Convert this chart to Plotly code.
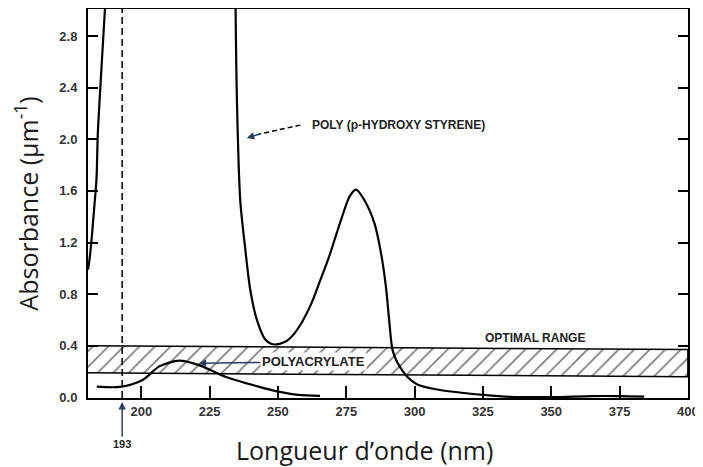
import plotly.graph_objects as go

# poly(p-hydroxystyrene): steep rise at the left edge, then the main curve
phs_left_nm = [180.5, 181.0, 181.8, 182.7, 183.6, 184.1, 185.4, 186.7]
phs_left_abs = [0.99, 1.06, 1.22, 1.45, 1.69, 2.05, 2.54, 3.01]

phs_nm = [234.5, 235.0, 236.2, 238.1, 239.9, 242.3, 245.3, 247.5, 249.5, 252.0, 254.0,
          256.2, 259.0, 262.3, 265.0, 268.3, 273.1, 276.2, 278.6, 281.6, 285.3, 287.7,
          289.5, 290.7, 291.9, 293.7, 297.3, 301.0, 309.3, 325.3, 335.0, 350.0, 365.0,
          375.0, 384.0]
phs_abs = [3.01, 2.30, 1.53, 1.14, 0.83, 0.60, 0.45, 0.415, 0.41, 0.425, 0.45,
           0.50, 0.59, 0.73, 0.88, 1.065, 1.375, 1.556, 1.61, 1.53, 1.35, 1.12,
           0.86, 0.60, 0.37, 0.27, 0.16, 0.10, 0.057, 0.019, 0.004, 0.002, 0.01,
           0.01, 0.006]

# polyacrylate
pa_nm = [183.7, 192.1, 200.5, 206.6, 213.9, 221.1, 230.8, 242.9, 250.2, 257.4, 265.4]
pa_abs = [0.083, 0.081, 0.135, 0.24, 0.285, 0.25, 0.16, 0.083, 0.044, 0.019, 0.012]

# optimal range band (slightly tilted in the scan)
band_nm = [180.5, 400.0]
band_top = [0.40, 0.37]
band_bottom = [0.19, 0.16]

laser_nm = 193

fig = go.Figure()

fig.add_trace(go.Scatter(
    x=band_nm + band_nm[::-1], y=band_top + band_bottom[::-1],
    fill="toself", mode="lines", line=dict(color="black", width=1.5),
    fillcolor="white",
    fillpattern=dict(shape="/", fgcolor="black", bgcolor="white", size=11, solidity=0.16),
    hoverinfo="skip", showlegend=False))

fig.add_trace(go.Scatter(x=[laser_nm, laser_nm], y=[-0.005, 3.01], mode="lines",
                         line=dict(color="black", width=1.5, dash="7px,4px"),
                         showlegend=False))

line_style = dict(color="black", width=2.2, shape="spline", smoothing=0.8)
fig.add_trace(go.Scatter(x=phs_left_nm, y=phs_left_abs, mode="lines", line=line_style, showlegend=False))
fig.add_trace(go.Scatter(x=phs_nm, y=phs_abs, mode="lines", line=line_style, showlegend=False))
fig.add_trace(go.Scatter(x=pa_nm, y=pa_abs, mode="lines", line=line_style, showlegend=False))

lab_font = dict(family="Liberation Sans", size=12, color="#222", weight="bold")

# POLY (p-HYDROXY STYRENE) with a dashed pointer
fig.add_shape(type="line", x0=258.2, y0=2.11, x1=243.0, y1=2.04,
              line=dict(color="black", width=1.5, dash="5px,3px"))
fig.add_annotation(x=238.6, y=2.01, ax=244.0, ay=2.045, axref="x", ayref="y",
                   text="", showarrow=True, arrowhead=2, arrowsize=1, arrowwidth=1.5)
fig.add_annotation(x=261.8, y=2.11, text="POLY (p-HYDROXY STYRENE)", showarrow=False,
                   xanchor="left", font=lab_font)

fig.add_annotation(x=344.2, y=0.46, text="OPTIMAL RANGE", showarrow=False, font=lab_font)

fig.add_annotation(x=221.0, y=0.265, ax=263.0, ay=0.275, axref="x", ayref="y",
                   text="POLYACRYLATE", showarrow=True, arrowhead=2, arrowsize=1,
                   arrowwidth=1.5, bgcolor="white", font=dict(lab_font, size=13))

# 193 nm marker below the axis
fig.add_annotation(x=laser_nm, y=-0.01, xref="x", yref="paper", ax=0, ay=42,
                   text="193", showarrow=True, arrowhead=2, arrowsize=1, arrowwidth=1.5,
                   font=dict(lab_font, size=11))

fig.add_annotation(x=0.46, y=-0.134, xref="paper", yref="paper", yanchor="middle",
                   text="Longueur d’onde (nm)", showarrow=False,
                   font=dict(family="Open Sans", size=25, color="#1a1a1a"))

axis_common = dict(showline=True, linecolor="black", linewidth=2, ticks="inside",
                   tickcolor="black", tickwidth=1.5, showgrid=False, zeroline=False,
                   automargin=False, ticklabeloverflow="allow",
                   tickfont=dict(family="Liberation Sans", size=13, color="#333", weight="bold"))

fig.update_xaxes(range=[180.5, 400.05], tick0=200, dtick=25, ticklen=12, mirror=True, **axis_common)
fig.update_yaxes(range=[-0.005, 3.01], tick0=0, dtick=0.4, tickformat=".1f", ticklen=10,
                 mirror="ticks", ticklabelstandoff=6,
                 title=dict(text="Absorbance (µm<sup>-1</sup>)", standoff=22,
                            font=dict(family="Open Sans", size=25, color="#1a1a1a")),
                 **axis_common)

# the page body adds an 8px offset, so the figure is sized to the remaining window
fig.update_layout(width=695, height=459, margin=dict(l=80, r=15, t=1, b=69),
                  plot_bgcolor="white", paper_bgcolor="white", showlegend=False)

fig.write_html("out.html")
